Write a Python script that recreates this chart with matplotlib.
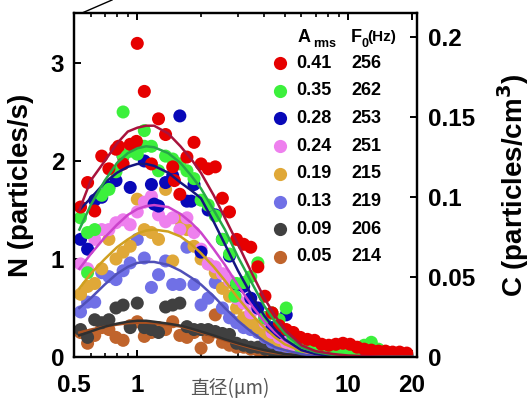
import matplotlib
matplotlib.use('Agg')
import matplotlib.pyplot as plt
from matplotlib.ticker import FixedLocator, NullFormatter, FixedFormatter
from matplotlib.lines import Line2D

plt.rcParams['font.family'] = ['Liberation Sans', 'DejaVu Sans']
plt.rcParams['font.weight'] = 'bold'

# ---------------- data ----------------
diam = [0.537, 0.580, 0.627, 0.677, 0.732, 0.791, 0.855, 0.924, 0.998, 1.078,
        1.165, 1.259, 1.360, 1.470, 1.589, 1.717, 1.855, 2.004, 2.166, 2.340,
        2.529, 2.733, 2.953, 3.191, 3.448, 3.726, 4.026, 4.350, 4.700, 5.079,
        5.488, 5.929, 6.407, 6.923, 7.482, 8.083, 8.737, 9.439, 10.20, 11.02,
        11.91, 12.87, 13.91, 15.03, 16.24, 17.54, 18.96]

n_red = [1.53, 1.78, 1.49, 2.05, 1.92, 2.12, 1.97, 2.17, 3.20, 2.71,
         1.97, 2.43, 2.27, 1.94, 1.66, 2.04, 2.19, 1.97, 1.92, 1.94,
         1.62, 1.48, 1.20, 1.15, 1.12, 0.92, 0.62, 0.45, 0.32, 0.28,
         0.25, 0.20, 0.18, 0.17, 0.13, 0.12, 0.13, 0.14, 0.13, 0.10,
         0.08, 0.07, 0.06, 0.06, 0.05, 0.05, 0.04]
n_green = [1.42, 1.27, 1.30, 1.65, 1.71, 1.89, 2.50, 2.10, 2.07, 2.31,
           2.15, 1.90, 2.05, 2.02, 1.97, 1.90, 1.82, 1.60, 1.55, 1.44,
           1.20, 1.05, 0.75, 0.76, 0.82, 0.96, 0.40, 0.45, 0.38, 0.50,
           0.20, 0.10, 0.12, 0.10, 0.08, 0.06, 0.05, 0.05, 0.06, 0.08,
           0.12, 0.15, 0.08, 0.05, 0.04, 0.03, 0.03]
n_blue = [1.20, 1.10, 1.60, 1.63, 1.73, 1.80, 2.05, 1.73, 2.17, 2.00,
          1.76, 1.54, 1.78, 1.85, 2.46, 1.59, 1.76, 1.07, 1.50, 1.45,
          1.20, 1.03, 0.74, 0.72, 0.60, 0.50, 0.40, 0.30, 0.25, 0.43,
          0.20, 0.15, 0.12, 0.08, 0.04, 0.06, 0.05, 0.04, 0.05, 0.04,
          0.03, 0.04, 0.03, 0.03, 0.02, 0.03, 0.02]
n_pink = [0.95, 0.90, 1.20, 1.30, 1.30, 1.37, 1.40, 1.35, 1.48, 1.58,
          1.64, 1.45, 1.38, 1.42, 1.30, 1.42, 1.27, 1.10, 0.95, 0.92,
          0.85, 0.78, 0.60, 0.55, 0.45, 0.50, 0.35, 0.25, 0.20, 0.15,
          0.12, 0.10, 0.08, 0.06, 0.05, 0.05, 0.04, 0.04, 0.03, 0.03,
          0.03, 0.02, 0.02, 0.02, 0.02, 0.01, 0.01]
n_orange = [0.64, 0.72, 0.75, 0.90, 1.20, 1.00, 1.07, 1.13, 1.61, 1.30,
            1.27, 1.20, 1.71, 0.98, 1.40, 1.30, 1.13, 1.00, 0.95, 0.86,
            0.70, 0.62, 0.50, 0.40, 0.35, 0.30, 0.22, 0.20, 0.15, 0.12,
            0.10, 0.08, 0.10, 0.06, 0.05, 0.04, 0.04, 0.03, 0.03, 0.03,
            0.02, 0.02, 0.02, 0.02, 0.01, 0.01, 0.01]
n_slate = [0.46, 0.56, 0.56, 0.86, 0.82, 0.79, 0.88, 0.96, 1.20, 1.01,
           0.71, 0.84, 0.98, 0.74, 0.74, 1.12, 0.74, 0.53, 0.60, 0.76,
           0.50, 0.40, 0.35, 0.30, 0.28, 0.25, 0.20, 0.15, 0.12, 0.10,
           0.08, 0.07, 0.06, 0.05, 0.05, 0.04, 0.04, 0.03, 0.03, 0.02,
           0.02, 0.02, 0.02, 0.01, 0.01, 0.01, 0.01]
n_gray = [0.28, 0.20, 0.38, 0.35, 0.38, 0.50, 0.53, 0.30, 0.55, 0.30,
          0.28, 0.25, 0.51, 0.53, 0.55, 0.31, 0.28, 0.28, 0.28, 0.26,
          0.24, 0.23, 0.14, 0.12, 0.10, 0.10, 0.08, 0.07, 0.06, 0.05,
          0.05, 0.04, 0.04, 0.03, 0.03, 0.03, 0.02, 0.02, 0.02, 0.02,
          0.02, 0.01, 0.01, 0.01, 0.01, 0.01, 0.01]
n_brown = [0.25, 0.14, 0.22, 0.30, 0.28, 0.20, 0.17, 0.32, 0.36, 0.21,
           0.25, 0.30, 0.28, 0.36, 0.22, 0.20, 0.25, 0.09, 0.20, 0.43,
           0.15, 0.12, 0.10, 0.10, 0.08, 0.07, 0.06, 0.06, 0.05, 0.05,
           0.04, 0.04, 0.03, 0.03, 0.03, 0.02, 0.02, 0.02, 0.02, 0.01,
           0.01, 0.01, 0.01, 0.01, 0.01, 0.01, 0.01]

# additional scattered measurements
extra_red_d = [0.813, 0.989, 1.497]
extra_red_n = [2.15, 2.20, 1.80]
extra_green_d = [0.580, 0.855, 1.078, 2.90]
extra_green_n = [0.86, 2.05, 2.15, 0.62]
extra_blue_d = [1.20, 1.80]
extra_blue_n = [1.56, 1.59]

# fitted curves
curve_d = [0.53, 0.6, 0.7, 0.8, 0.9, 1.0, 1.1, 1.2, 1.4, 1.6, 1.8, 2.0, 2.3,
           2.6, 3.0, 3.5, 4.0, 4.5, 5.0, 6.0, 7.0, 8.5, 10, 14, 20]
fit_red = [1.50, 1.80, 2.00, 2.18, 2.30, 2.34, 2.36, 2.36, 2.28, 2.15, 2.02, 1.88, 1.65,
           1.42, 1.15, 0.85, 0.60, 0.42, 0.28, 0.12, 0.06, 0.03, 0.015, 0.005, 0.002]
fit_green = [1.30, 1.55, 1.80, 1.98, 2.08, 2.13, 2.15, 2.14, 2.08, 1.98, 1.85, 1.72, 1.50,
             1.30, 1.02, 0.75, 0.52, 0.36, 0.24, 0.10, 0.05, 0.02, 0.01, 0.004, 0.001]
fit_blue = [1.50, 1.62, 1.78, 1.88, 1.94, 1.97, 1.97, 1.95, 1.88, 1.78, 1.70, 1.62, 1.38,
            1.15, 0.88, 0.62, 0.42, 0.28, 0.18, 0.07, 0.03, 0.01, 0.005, 0.001, 0.0]
fit_pink = [0.90, 1.05, 1.22, 1.35, 1.45, 1.51, 1.54, 1.55, 1.53, 1.46, 1.37, 1.27, 1.10,
            0.94, 0.73, 0.52, 0.36, 0.25, 0.17, 0.07, 0.03, 0.01, 0.005, 0.001, 0.0]
fit_orange = [0.70, 0.85, 1.00, 1.12, 1.20, 1.26, 1.29, 1.30, 1.28, 1.23, 1.15, 1.06, 0.92,
              0.78, 0.60, 0.43, 0.30, 0.20, 0.13, 0.06, 0.03, 0.01, 0.005, 0.001, 0.0]
fit_slate = [0.50, 0.60, 0.74, 0.85, 0.92, 0.96, 0.97, 0.97, 0.94, 0.88, 0.81, 0.74, 0.62,
             0.50, 0.37, 0.25, 0.16, 0.10, 0.07, 0.03, 0.01, 0.005, 0.002, 0.0, 0.0]
fit_gray = [0.22, 0.26, 0.31, 0.34, 0.36, 0.37, 0.37, 0.36, 0.34, 0.32, 0.29, 0.26, 0.22,
            0.18, 0.14, 0.10, 0.07, 0.05, 0.03, 0.015, 0.007, 0.003, 0.001, 0.0, 0.0]
fit_brown = [0.25, 0.28, 0.31, 0.33, 0.345, 0.35, 0.35, 0.345, 0.33, 0.31, 0.28, 0.25, 0.21,
             0.17, 0.13, 0.09, 0.06, 0.04, 0.03, 0.015, 0.007, 0.003, 0.001, 0.0, 0.0]

a_rms = ['0.41', '0.35', '0.28', '0.24', '0.19', '0.13', '0.09', '0.05']
f0_hz = ['256', '262', '253', '251', '215', '219', '206', '214']

x_ticks = [0.5, 1, 10, 20]
x_ticklabels = ['0.5', '1', '10', '20']
y_ticks = [0, 1, 2, 3]
y2_ticks = [0, 0.05, 0.1, 0.15, 0.2]
y2_ticklabels = ['0', '0.05', '0.1', '0.15', '0.2']

# ---------------- styling ----------------
pt_colors = ['#e60000', '#3cf03c', '#0808b8', '#ee80ee', '#e0a838', '#7070e6', '#404040', '#c0642c']
ln_colors = ['#a8123c', '#28a848', '#141480', '#cc44cc', '#d0a020', '#5050b8', '#303030', '#a85020']

series = [n_red, n_green, n_blue, n_pink, n_orange, n_slate, n_gray, n_brown]
fits = [fit_red, fit_green, fit_blue, fit_pink, fit_orange, fit_slate, fit_gray, fit_brown]
extras = {0: (extra_red_d, extra_red_n), 1: (extra_green_d, extra_green_n),
          2: (extra_blue_d, extra_blue_n)}

fig = plt.figure(figsize=(5.31, 4.03), dpi=100)
ax = fig.add_axes([74 / 531, 1 - 357 / 403, (417 - 74) / 531, (357 - 13) / 403])
ax.set_xscale('log')
ax.set_xlim(0.5, 21.2)
ax.set_ylim(0, 3.51)

ms = 88
# draw from last series (brown) to first (red) so red is on top
for i in range(7, -1, -1):
    ax.scatter(diam, series[i], s=ms, color=pt_colors[i], edgecolors='none', zorder=2)
    if i in extras:
        ax.scatter(extras[i][0], extras[i][1], s=ms, color=pt_colors[i], edgecolors='none', zorder=2)
for i in range(7, -1, -1):
    ax.plot(curve_d, fits[i], color=ln_colors[i], lw=1.8, zorder=3)

# axes styling
for sp in ax.spines.values():
    sp.set_linewidth(1.6)
ax.xaxis.set_major_locator(FixedLocator(x_ticks))
ax.xaxis.set_major_formatter(FixedFormatter(x_ticklabels))
ax.xaxis.set_minor_locator(FixedLocator([0.6, 0.7, 0.8, 0.9, 2, 3, 4, 5, 6, 7, 8, 9]))
ax.xaxis.set_minor_formatter(NullFormatter())
ax.set_yticks(y_ticks)
ax.set_yticklabels([str(v) for v in y_ticks])
ax.tick_params(axis='both', which='major', direction='in', length=5, width=1.4,
               labelsize=17.5, top=True)
ax.tick_params(axis='x', which='major', pad=12)
ax.tick_params(axis='y', which='major', pad=7)
ax.tick_params(axis='x', which='minor', direction='in', length=3, width=1.2, top=True)
ax.tick_params(axis='y', right=False)
for lab in ax.get_xticklabels() + ax.get_yticklabels():
    lab.set_fontweight('bold')
ax.set_ylabel('N (particles/s)', fontsize=20, fontweight='bold', labelpad=12)

ax2 = ax.twinx()
ax2.set_ylim(0, 0.215)
ax2.set_yticks(y2_ticks)
ax2.set_yticklabels(y2_ticklabels)
ax2.tick_params(axis='y', direction='in', length=5, width=1.4, labelsize=17.5, pad=8)
for lab in ax2.get_yticklabels():
    lab.set_fontweight('bold')
for sp in ax2.spines.values():
    sp.set_linewidth(1.6)
ax2.set_ylabel('C (particles/cm$^\\mathbf{3}$)', fontsize=20, fontweight='bold', labelpad=14)

# legend (manual)
def fx(px):
    return px / 531
def fy(py):
    return 1 - py / 403

fig.text(fx(298), fy(37), 'A', fontsize=13, fontweight='bold', va='center', ha='left')
fig.text(fx(313), fy(44), 'rms', fontsize=9, fontweight='bold', va='center', ha='left')
fig.text(fx(351), fy(37), 'F', fontsize=13, fontweight='bold', va='center', ha='left')
fig.text(fx(361), fy(44), '0', fontsize=9, fontweight='bold', va='center', ha='left')
fig.text(fx(367), fy(37), '(Hz)', fontsize=11, fontweight='bold', va='center', ha='left')
for i in range(8):
    y = 63 + i * 27.7
    fig.add_artist(Line2D([fx(280)], [fy(y)], marker='o', markersize=9.5, color=pt_colors[i],
                          markeredgewidth=0, linestyle='none'))
    fig.text(fx(296), fy(y), a_rms[i], fontsize=13, fontweight='bold', va='center', ha='left')
    fig.text(fx(351), fy(y), f0_hz[i], fontsize=13, fontweight='bold', va='center', ha='left')

# x label overlay
fig.text(fx(190), fy(389), '直径(μm)', fontsize=13.5, color='#555555', va='center', ha='left',
         family=['Noto Sans CJK SC', 'DejaVu Sans'], fontweight='normal')

# small leader line at the top-left corner
fig.add_artist(Line2D([fx(82), fx(112)], [fy(13), fy(0)], color='black', lw=1.0))

fig.savefig('out.png', dpi=100)
